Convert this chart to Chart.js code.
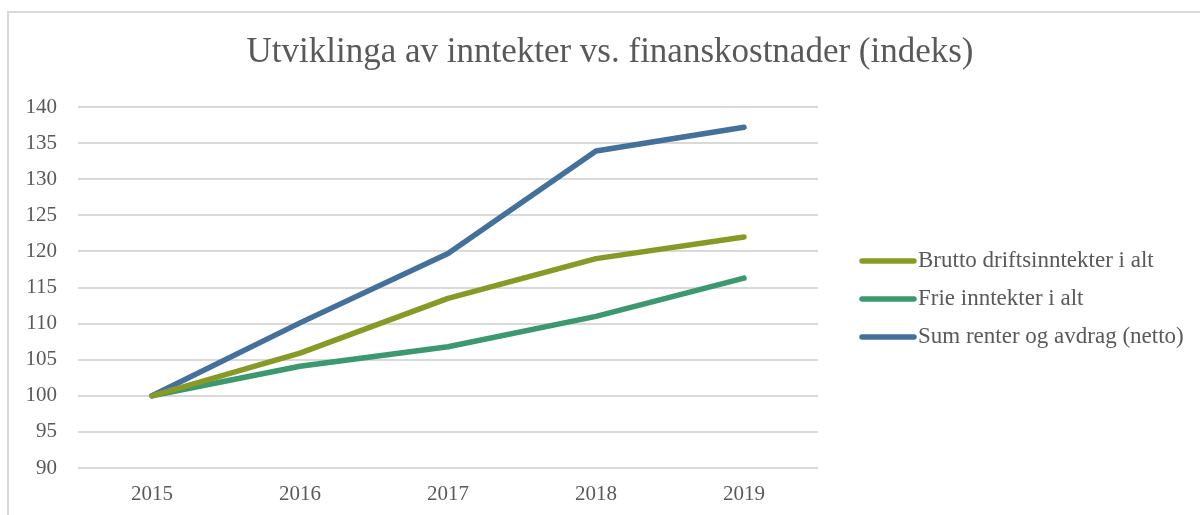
<!DOCTYPE html>
<html>
<head>
<meta charset="utf-8">
<script src="https://cdn.jsdelivr.net/npm/chart.js@4"></script>
<style>
  body { margin: 0; background: #fff; }
  #wrap { position: relative; width: 1200px; height: 515px; overflow: hidden; }
  #frame { position: absolute; left: 7px; top: 11px; width: 1300px; height: 600px; border: 2px solid #d9d9d9; box-sizing: border-box; }
  canvas { position: absolute; left: 0; top: 0; }
</style>
</head>
<body>
<div id="wrap">
  <div id="frame"></div>
  <canvas id="chart" width="1200" height="515"></canvas>
</div>
<script>
const years = ['2015', '2016', '2017', '2018', '2019']
const brutto = [100, 105.9, 113.5, 119.0, 122.0]
const frie = [100, 104.1, 106.8, 111.0, 116.3]
const renter = [100, 110.1, 119.7, 133.9, 137.2]
const seriesNames = ['Brutto driftsinntekter i alt', 'Frie inntekter i alt', 'Sum renter og avdrag (netto)']
const seriesColors = ['#889a26', '#3b986f', '#44709c']

const textColor = '#595959'
const serif = "'Liberation Serif', 'DejaVu Serif', serif"

// legend drawn at the right, like the original sheet
const sideLegend = {
  id: 'sideLegend',
  afterDraw (chart) {
    const ctx = chart.ctx
    ctx.save()
    chart.data.datasets.forEach((ds, i) => {
      const y = 261 + i * 38
      ctx.strokeStyle = ds.borderColor
      ctx.lineWidth = 5.5
      ctx.lineCap = 'round'
      ctx.beginPath()
      ctx.moveTo(862, y)
      ctx.lineTo(914, y)
      ctx.stroke()
      ctx.fillStyle = textColor
      ctx.font = '23px ' + serif
      ctx.textBaseline = 'middle'
      ctx.fillText(ds.label, 918, y)
    })
    ctx.restore()
  }
}

const datasets = [brutto, frie, renter].map((values, i) => ({
  label: seriesNames[i],
  data: values,
  borderColor: seriesColors[i],
  backgroundColor: seriesColors[i],
  borderWidth: 5.5,
  borderCapStyle: 'round',
  borderJoinStyle: 'round',
  pointRadius: 0,
  tension: 0,
  yAxisID: 'y'
}))

new Chart(document.getElementById('chart'), {
  type: 'line',
  data: { labels: years, datasets: datasets },
  options: {
    responsive: false,
    animation: false,
    layout: { padding: { left: 20, right: 0, top: 0, bottom: 0 } },
    plugins: {
      legend: { display: false },
      tooltip: { enabled: false },
      title: {
        display: true,
        text: 'Utviklinga av inntekter vs. finanskostnader (indeks)',
        color: textColor,
        font: { family: serif, size: 35, weight: 'normal' },
        padding: { top: 32, bottom: 33 }
      }
    },
    scales: {
      x: {
        offset: true,
        afterFit: (s) => { s.height = 47 },
        grid: { display: false, drawTicks: false },
        border: { display: false },
        ticks: { color: textColor, font: { family: serif, size: 21 }, padding: 14 }
      },
      y: {
        min: 90,
        max: 140,
        afterFit: (s) => { s.width = 58 },
        grid: { color: '#d9d9d9', lineWidth: 2, drawTicks: false },
        border: { display: false },
        ticks: { stepSize: 5, color: textColor, font: { family: serif, size: 21 }, padding: 21 }
      },
      // empty right-hand axis that keeps room for the legend
      side: {
        position: 'right',
        min: 90,
        max: 140,
        afterFit: (s) => { s.width = 382 },
        grid: { display: false, drawTicks: false },
        border: { display: false },
        ticks: { display: false }
      }
    }
  },
  plugins: [sideLegend]
})
</script>
</body>
</html>
